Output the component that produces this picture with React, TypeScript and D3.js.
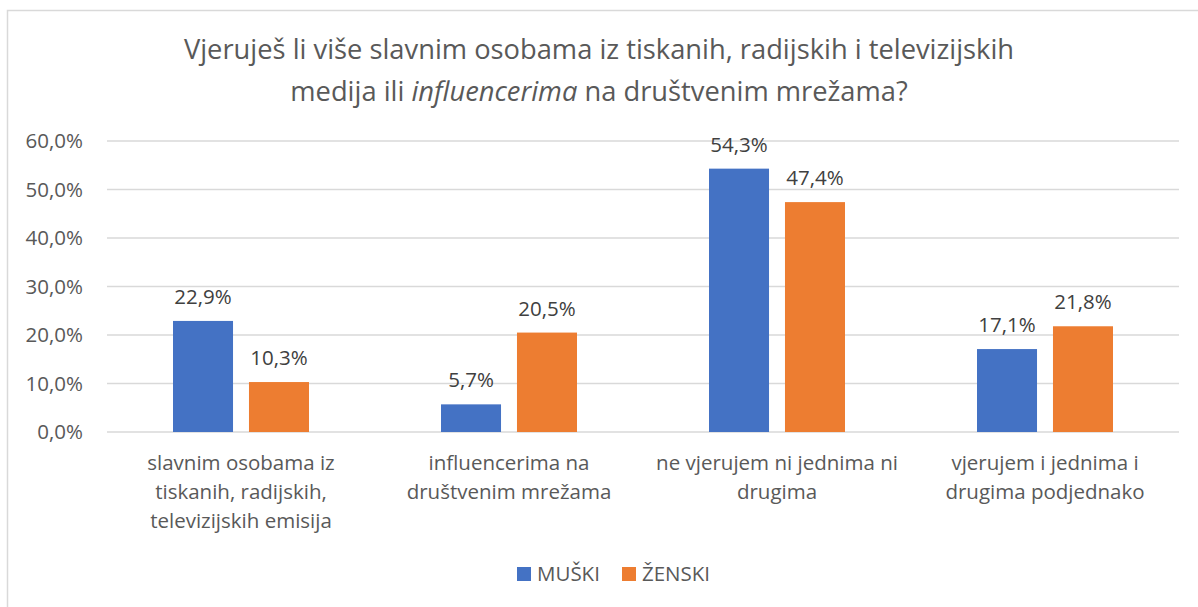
import React from "react";
import * as d3 from "d3";

const categories: string[][] = [
  ["slavnim osobama iz", "tiskanih, radijskih,", "televizijskih emisija"],
  ["influencerima na", "društvenim mrežama"],
  ["ne vjerujem ni jednima ni", "drugima"],
  ["vjerujem i jednima i", "drugima podjednako"],
];
const seriesNames = ["MUŠKI", "ŽENSKI"];
const muski = [22.9, 5.7, 54.3, 17.1];
const zenski = [10.3, 20.5, 47.4, 21.8];
const yTicks = [0, 10, 20, 30, 40, 50, 60];
const colors = ["#4472C4", "#ED7D31"];

const W = 1198;
const H = 607;
const FONT = "'Open Sans', sans-serif";
const FS = 20.5;

export default function App() {
  const x0 = 107, x1 = 1179, yBase = 432, yTop = 141;
  const catIdx = categories.map((_, i) => String(i));
  const xCat = d3.scaleBand<string>().domain(catIdx).range([x0, x1]).paddingInner(0).paddingOuter(0);
  const step = xCat.bandwidth();
  const xSer = d3.scaleBand<string>().domain(seriesNames).range([step * 0.2463, step * 0.7537]).paddingInner(0.21);
  const y = d3.scaleLinear().domain([0, 60]).range([yBase, yTop]);
  const values = [muski, zenski];
  const fmt = (v: number) => v.toFixed(1).replace(".", ",") + "%";

  return (
    <svg width={W} height={H} style={{ position: "absolute", left: 0, top: 0, display: "block", background: "#fff" }} fontFamily={FONT}>
      <rect x={0} y={0} width={W} height={H} fill="#fff" />
      <path d={`M7.5,${H + 5} V10.5 H${W + 5}`} fill="none" stroke="#d9d9d9" strokeWidth={1.5} />
      <text x={599} y={59} textAnchor="middle" fontSize={27.3} fill="#595959">
        Vjeruješ li više slavnim osobama iz tiskanih, radijskih i televizijskih
      </text>
      <text x={599} y={101} textAnchor="middle" fontSize={27.3} fill="#595959">
        medija ili <tspan fontStyle="italic">influencerima</tspan> na društvenim mrežama?
      </text>
      {yTicks.map((t) => (
        <g key={t}>
          <line x1={x0} x2={x1} y1={y(t)} y2={y(t)} stroke="#d9d9d9" strokeWidth={t === 0 ? 1.5 : 1.3} />
          <text x={83} y={y(t)} dy="0.36em" textAnchor="end" fontSize={FS} fill="#595959">
            {fmt(t)}
          </text>
        </g>
      ))}
      {values.map((vals, s) =>
        vals.map((v, i) => {
          const bx = (xCat(String(i)) as number) + (xSer(seriesNames[s]) as number);
          const bw = xSer.bandwidth();
          return (
            <g key={`${s}-${i}`}>
              <rect x={bx} y={y(v)} width={bw} height={yBase - y(v)} fill={colors[s]} />
              <text x={bx + bw / 2} y={y(v) - 17} textAnchor="middle" fontSize={FS} fill="#404040">
                {fmt(v)}
              </text>
            </g>
          );
        })
      )}
      {categories.map((lines, i) => (
        <text key={i} x={(xCat(String(i)) as number) + step / 2} y={470} textAnchor="middle" fontSize={FS} fill="#595959">
          {lines.map((l, j) => (
            <tspan key={j} x={(xCat(String(i)) as number) + step / 2} dy={j === 0 ? 0 : 29}>
              {l}
            </tspan>
          ))}
        </text>
      ))}
      {seriesNames.map((n, s) => {
        const lx = s === 0 ? 517 : 622;
        return (
          <g key={n}>
            <rect x={lx} y={567} width={14} height={14} fill={colors[s]} />
            <text x={lx + 20} y={574} dy="0.36em" fontSize={FS} fill="#595959">
              {n}
            </text>
          </g>
        );
      })}
    </svg>
  );
}
